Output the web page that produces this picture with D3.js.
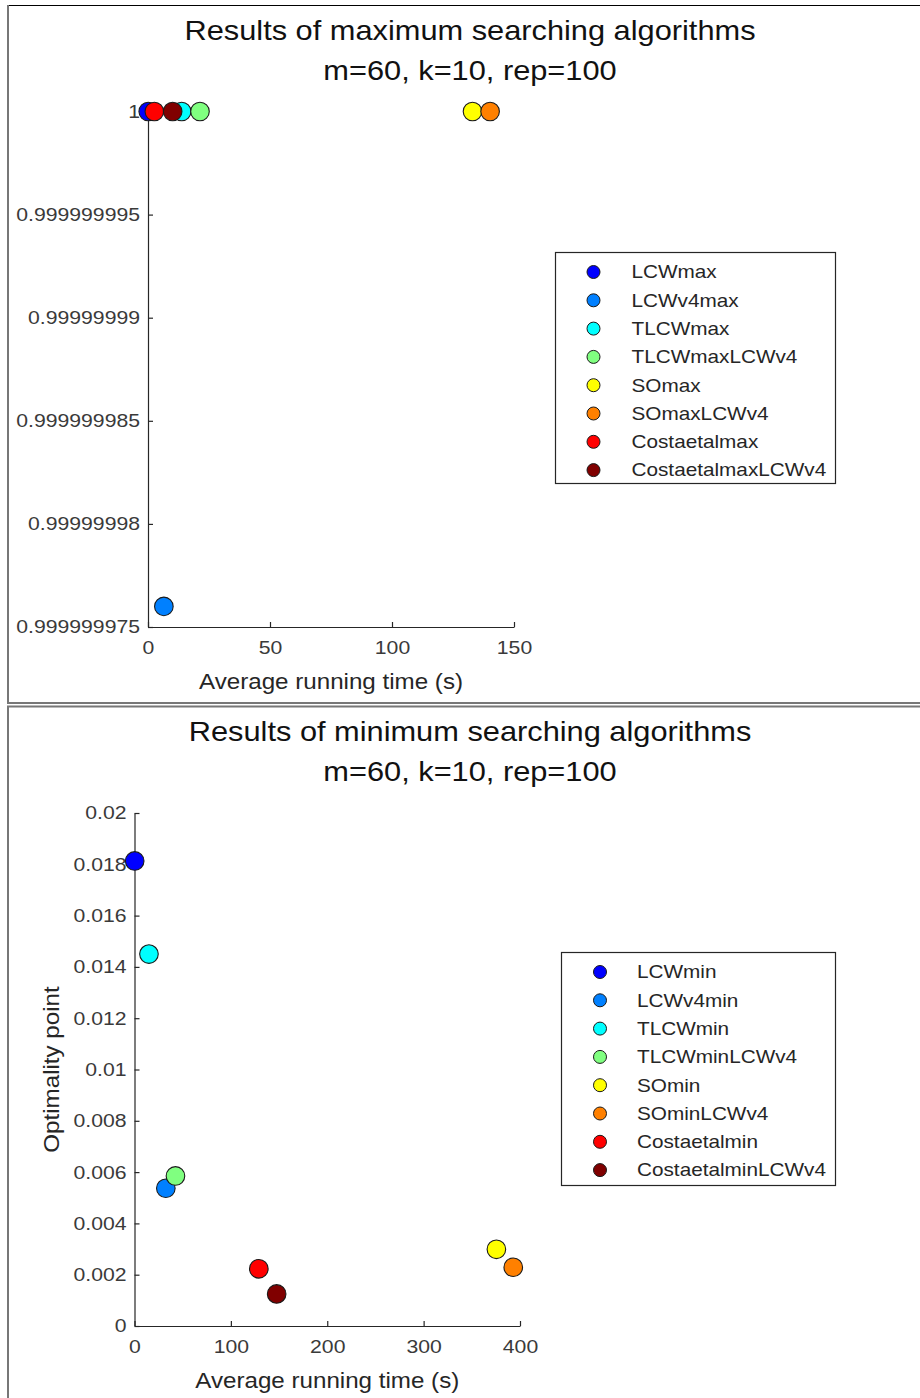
<!DOCTYPE html>
<html lang="en">
<head>
  <meta charset="UTF-8">
  <title>Results of maximum / minimum searching algorithms</title>
  <script src="https://d3js.org/d3.v7.min.js"></script>
  <style>
    body {
      margin: 0;
      background: #fff;
    }
    svg text {
      font-family: "Liberation Sans", Arial, sans-serif;
    }
  </style>
</head>
<body>
  <div id="chart"></div>

  <script>
    // Algorithm colours (jet(8))
    const colors = ["#0000ff", "#0080ff", "#00ffff", "#80ff80", "#ffff00", "#ff8000", "#ff0000", "#800000"];

    // Top panel: maximum searching
    const maxNames = ["LCWmax", "LCWv4max", "TLCWmax", "TLCWmaxLCWv4", "SOmax", "SOmaxLCWv4", "Costaetalmax", "CostaetalmaxLCWv4"];
    const maxTime  = [0.1, 6.5, 13.8, 21.3, 133, 140.2, 2.6, 10.1];
    const maxValue = [1, 0.999999976, 1, 1, 1, 1, 1, 1];
    const maxXTicks = [0, 50, 100, 150];
    const maxYTicks = [1, 0.999999995, 0.99999999, 0.999999985, 0.99999998, 0.999999975];
    const maxYTickLabels = ["1", "0.999999995", "0.99999999", "0.999999985", "0.99999998", "0.999999975"];

    // Bottom panel: minimum searching
    const minNames = ["LCWmin", "LCWv4min", "TLCWmin", "TLCWminLCWv4", "SOmin", "SOminLCWv4", "Costaetalmin", "CostaetalminLCWv4"];
    const minTime  = [0.2, 32.5, 15, 42.5, 375.5, 393, 129, 147.5];
    const minValue = [0.01813, 0.00537, 0.0145, 0.00585, 0.00299, 0.00229, 0.00223, 0.00125];
    const minXTicks = [0, 100, 200, 300, 400];
    const minYTicks = [0, 0.002, 0.004, 0.006, 0.008, 0.01, 0.012, 0.014, 0.016, 0.018, 0.02];
    const minYTickLabels = ["0", "0.002", "0.004", "0.006", "0.008", "0.01", "0.012", "0.014", "0.016", "0.018", "0.02"];

    const title    = "Results of maximum searching algorithms";
    const titleMin = "Results of minimum searching algorithms";
    const subtitle = "m=60, k=10, rep=100";
    const xLabel   = "Average running time (s)";
    const yLabelMin = "Optimality point";

    // MATLAB text renders a bit wide, so text is stretched horizontally
    const SX = 1.14;
    const axisColor = "#262626";

    const svg = d3.select("#chart")
      .append("svg")
      .attr("width", 920)
      .attr("height", 1398);

    // Helper: stretched text
    function stext(g, x, y, str, size, anchor, rot) {
      const r = rot ? ` rotate(${rot})` : "";
      return g.append("text")
        .attr("transform", `translate(${x},${y})${r} scale(${SX},1)`)
        .attr("font-size", size)
        .attr("text-anchor", anchor || "middle")
        .attr("fill", "#262626")
        .text(str);
    }

    function styleAxis(g) {
      g.attr("font-family", null).attr("font-size", 18.6);
      g.select(".domain").attr("stroke", axisColor).attr("stroke-width", 1.2);
      g.selectAll(".tick line").attr("stroke", axisColor).attr("stroke-width", 1.2);
      g.selectAll(".tick text")
        .attr("fill", "#3a3a3a")
        .attr("transform", `scale(${SX},1)`)
        .attr("x", function() {
          const x = d3.select(this).attr("x");
          return x === null ? null : +x / SX;
        });
    }

    function drawPanel(cfg) {
      const g = svg.append("g");

      const x = d3.scaleLinear().domain(cfg.xDomain).range(cfg.xRange);
      const y = d3.scaleLinear().domain(cfg.yDomain).range(cfg.yRange);

      // Titles
      stext(g, 470, cfg.titleY, cfg.title, 27).attr("fill", "#111");
      stext(g, 470, cfg.titleY + 40, subtitle, 27).attr("fill", "#111");

      // Axes (inward ticks, MATLAB style)
      const xAxis = d3.axisBottom(x)
        .tickValues(cfg.xTicks)
        .tickSizeInner(-5)
        .tickSizeOuter(0)
        .tickPadding(14)
        .tickFormat(d3.format("d"));

      const yAxis = d3.axisLeft(y)
        .tickValues(cfg.yTicks)
        .tickSizeInner(-5)
        .tickSizeOuter(0)
        .tickPadding(8)
        .tickFormat((d, i) => cfg.yTickLabels[i]);

      g.append("g")
        .attr("transform", `translate(0,${cfg.yRange[0]})`)
        .call(xAxis)
        .call(styleAxis);

      g.append("g")
        .attr("transform", `translate(${cfg.xRange[0]},0)`)
        .call(yAxis)
        .call(styleAxis);

      // Axis labels
      stext(g, (cfg.xRange[0] + cfg.xRange[1]) / 2, cfg.yRange[0] + 62, xLabel, 21.2);
      if (cfg.yLabel) {
        stext(g, 59, (cfg.yRange[0] + cfg.yRange[1]) / 2, cfg.yLabel, 21.2, "middle", -90);
      }

      // Markers
      g.selectAll(".pt")
        .data(cfg.names)
        .enter()
        .append("circle")
        .attr("class", "pt")
        .attr("cx", (d, i) => x(cfg.time[i]))
        .attr("cy", (d, i) => y(cfg.value[i]))
        .attr("r", 9.3)
        .attr("fill", (d, i) => colors[i])
        .attr("stroke", "#1a1a1a")
        .attr("stroke-width", 1.1);

      // Legend
      const lg = g.append("g");
      lg.append("rect")
        .attr("x", cfg.legend.x)
        .attr("y", cfg.legend.y)
        .attr("width", cfg.legend.w)
        .attr("height", cfg.legend.h)
        .attr("fill", "#fff")
        .attr("stroke", axisColor)
        .attr("stroke-width", 1.2);

      const rowY = i => cfg.legend.y + 19.5 + i * 28.3;

      lg.selectAll(".lm")
        .data(cfg.names)
        .enter()
        .append("circle")
        .attr("class", "lm")
        .attr("cx", cfg.legend.x + cfg.legend.mx)
        .attr("cy", (d, i) => rowY(i))
        .attr("r", 6.5)
        .attr("fill", (d, i) => colors[i])
        .attr("stroke", "#1a1a1a")
        .attr("stroke-width", 1);

      cfg.names.forEach((name, i) => {
        stext(lg, cfg.legend.x + cfg.legend.tx, rowY(i) + 6.3, name, 18.2, "start");
      });
    }

    // Panel frames
    const frame = svg.append("g");
    frame.append("line").attr("x1", 8).attr("x2", 920).attr("y1", 5.5).attr("y2", 5.5)
      .attr("stroke", "#000").attr("stroke-width", 1);
    frame.append("line").attr("x1", 8).attr("x2", 8).attr("y1", 5).attr("y2", 704)
      .attr("stroke", "#777").attr("stroke-width", 2);
    frame.append("line").attr("x1", 7).attr("x2", 920).attr("y1", 703).attr("y2", 703)
      .attr("stroke", "#777").attr("stroke-width", 2);
    frame.append("line").attr("x1", 7).attr("x2", 920).attr("y1", 706.5).attr("y2", 706.5)
      .attr("stroke", "#777").attr("stroke-width", 2);
    frame.append("line").attr("x1", 8).attr("x2", 8).attr("y1", 706).attr("y2", 1398)
      .attr("stroke", "#777").attr("stroke-width", 2);

    drawPanel({
      title: title,
      titleY: 39.5,
      names: maxNames,
      time: maxTime,
      value: maxValue,
      xDomain: [0, 150],
      xRange: [148, 514],
      yDomain: [0.999999975, 1],
      yRange: [627, 111.5],
      xTicks: maxXTicks,
      yTicks: maxYTicks,
      yTickLabels: maxYTickLabels,
      yLabel: null,
      legend: { x: 555.5, y: 252.5, w: 280, h: 231, mx: 38, tx: 76 }
    });

    drawPanel({
      title: titleMin,
      titleY: 740.5,
      names: minNames,
      time: minTime,
      value: minValue,
      xDomain: [0, 400],
      xRange: [134.5, 520],
      yDomain: [0, 0.02],
      yRange: [1326, 813],
      xTicks: minXTicks,
      yTicks: minYTicks,
      yTickLabels: minYTickLabels,
      yLabel: yLabelMin,
      legend: { x: 561.5, y: 952.5, w: 274, h: 233, mx: 38.5, tx: 75.5 }
    });
  </script>
</body>
</html>
